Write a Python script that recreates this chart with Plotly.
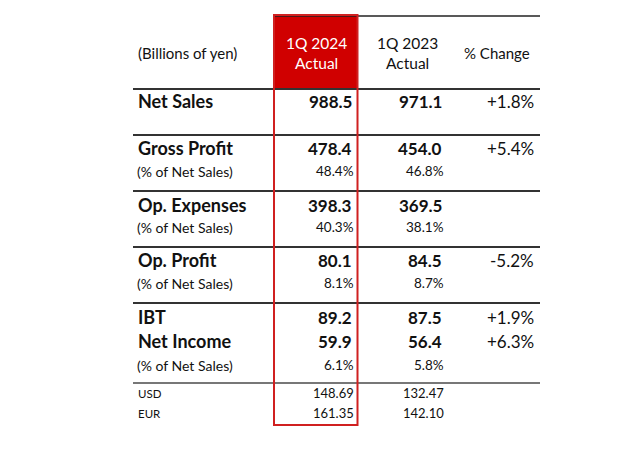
import plotly.graph_objects as go

header_unit = "(Billions of yen)"
col_headers = ["1Q 2024<br>Actual", "1Q 2023<br>Actual", "% Change"]

main_labels = ["Net Sales", "Gross Profit", "Op. Expenses", "Op. Profit", "IBT", "Net Income"]
cur_vals = ["988.5", "478.4", "398.3", "80.1", "89.2", "59.9"]
prev_vals = ["971.1", "454.0", "369.5", "84.5", "87.5", "56.4"]
pct_change = ["+1.8%", "+5.4%", "", "-5.2%", "+1.9%", "+6.3%"]
main_y = [101, 148, 205, 260, 317, 341]

sub_label = "(% of Net Sales)"
sub_cur = ["48.4%", "40.3%", "8.1%", "6.1%"]
sub_prev = ["46.8%", "38.1%", "8.7%", "5.8%"]
sub_y = [171, 227, 283, 365]

fx_labels = ["USD", "EUR"]
fx_cur = ["148.69", "161.35"]
fx_prev = ["132.47", "142.10"]
fx_y = [393, 413]

sep_y = [89, 135, 191, 247, 303]

FONT = "Lato"
RED = "#D00000"

fig = go.Figure()
ann = []
shapes = []

# red header box
shapes.append(dict(type="rect", x0=273, x1=358, y0=15, y1=88, fillcolor=RED, line=dict(width=0), layer="below"))
# top line
shapes.append(dict(type="line", x0=273, x1=540, y0=16, y1=16, line=dict(color="#222", width=1.5)))
for y in sep_y:
    shapes.append(dict(type="line", x0=133, x1=540, y0=y, y1=y, line=dict(color="#333", width=2)))
shapes.append(dict(type="line", x0=133, x1=540, y0=383, y1=383, line=dict(color="#777", width=2)))
# red outline
shapes.append(dict(type="rect", x0=274, x1=357.5, y0=15, y1=425, line=dict(color="#D02020", width=2), fillcolor="rgba(0,0,0,0)"))

def A(x, y, t, size, anchor="left", bold=False, color="#111"):
    ann.append(dict(x=x, y=y, xref="x", yref="y", text=("<b>%s</b>" % t) if bold else t,
                    showarrow=False, xanchor=anchor, yanchor="middle",
                    font=dict(family=FONT, size=size, color=color)))

A(136, 53, header_unit, 15)
A(316, 53, col_headers[0], 15.5, "center", color="white")
A(407, 53, col_headers[1], 15.5, "center")
A(497, 53, col_headers[2], 15, "center")

for lab, c, p, ch, y in zip(main_labels, cur_vals, prev_vals, pct_change, main_y):
    A(136, y, lab, 18, bold=True)
    A(354, y, c, 17, "right", bold=True)
    A(444, y, p, 17, "right", bold=True)
    if ch:
        A(536, y, ch, 17, "right")

for c, p, y in zip(sub_cur, sub_prev, sub_y):
    A(135, y, sub_label, 14)
    A(356, y, c, 13.5, "right")
    A(446, y, p, 13.5, "right")

for lab, c, p, y in zip(fx_labels, fx_cur, fx_prev, fx_y):
    A(136, y, lab, 11.5)
    A(356, y, c, 13, "right")
    A(446, y, p, 13, "right")

OFF = 8  # page body margin
fig.add_trace(go.Scatter(x=[OFF, 640], y=[OFF, 455], mode="markers", marker=dict(opacity=0), hoverinfo="skip", showlegend=False))
fig.update_layout(width=640 - OFF, height=455 - OFF, margin=dict(l=0, r=0, t=0, b=0),
                  paper_bgcolor="white", plot_bgcolor="white",
                  xaxis=dict(range=[OFF, 640], visible=False, fixedrange=True),
                  yaxis=dict(range=[455, OFF], visible=False, fixedrange=True),
                  annotations=ann, shapes=shapes, showlegend=False)
fig.write_html("out.html", config=dict(displayModeBar=False))
